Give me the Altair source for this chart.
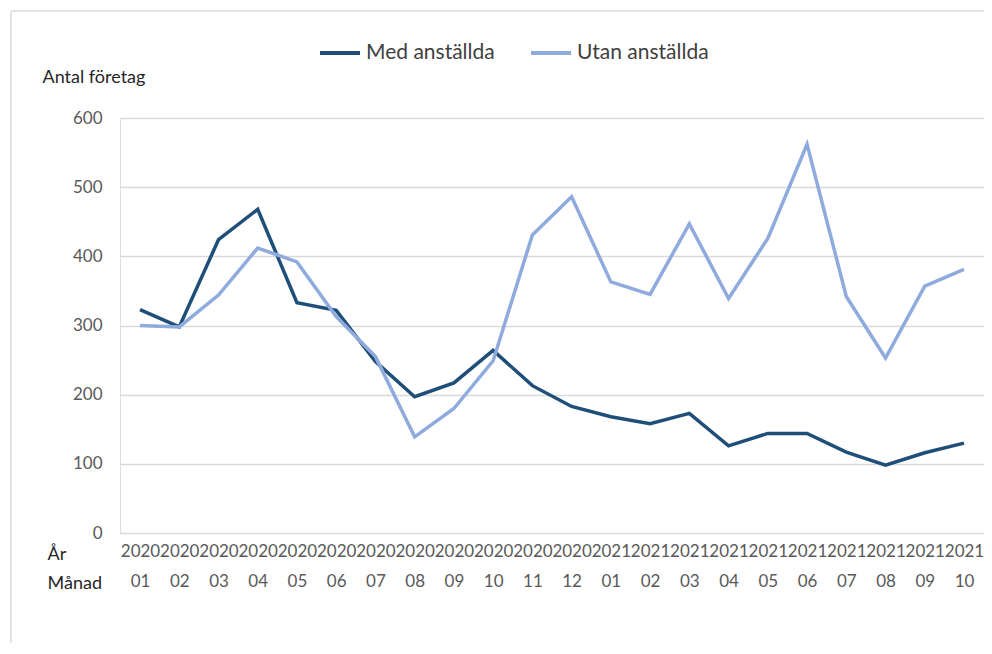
import altair as alt
import pandas as pd

months = ["2020-01","2020-02","2020-03","2020-04","2020-05","2020-06","2020-07","2020-08",
          "2020-09","2020-10","2020-11","2020-12","2021-01","2021-02","2021-03","2021-04",
          "2021-05","2021-06","2021-07","2021-08","2021-09","2021-10"]
med = [323, 298, 424, 468, 333, 322, 248, 197, 217, 264, 213, 183,
       168, 158, 173, 126, 144, 144, 117, 98, 116, 130]
utan = [300, 298, 344, 412, 392, 313, 255, 139, 180, 249, 431, 486,
        363, 345, 447, 339, 426, 562, 342, 253, 357, 381]
series_names = ["Med anställda", "Utan anställda"]
colors = ["#1f4e79", "#8faadc"]

rows = []
for m, a, b in zip(months, med, utan):
    rows.append({"Månad": m, "Serie": series_names[0], "Antal": a})
    rows.append({"Månad": m, "Serie": series_names[1], "Antal": b})
df = pd.DataFrame(rows)

FONT = "Lato"
W, H = 864, 415

lines = alt.Chart(df).mark_line(strokeWidth=3.5, strokeJoin="miter").encode(
    x=alt.X("Månad:O", sort=months,
            scale=alt.Scale(type="point", padding=0.51),
            axis=alt.Axis(
                title=["År", "Månad"], titleX=-73, titleY=12, titleAlign="left",
                titleBaseline="top", titleAnchor="start", titleFontWeight="normal",
                titleFontSize=18, titleColor="#262626", titleFont=FONT, titleLineHeight=29,
                labelExpr="[split(datum.label,'-')[0], split(datum.label,'-')[1]]",
                labelAngle=0, labelOverlap=False, labelFontSize=17, labelColor="#595959",
                labelFont=FONT, labelLineHeight=30, labelPadding=10, labelBound=False,
                labelFlush=False,
                ticks=False, domain=False, grid=False)),
    y=alt.Y("Antal:Q", scale=alt.Scale(domain=[0, 600], nice=False),
            axis=alt.Axis(
                title="Antal företag", titleAngle=0, titleX=-78, titleY=-41,
                titleAlign="left", titleBaseline="middle", titleFontWeight="normal",
                titleFontSize=18, titleColor="#262626", titleFont=FONT,
                values=[0, 100, 200, 300, 400, 500, 600],
                labelFontSize=17, labelColor="#595959", labelFont=FONT, labelPadding=18,
                ticks=False, domain=False, grid=True, gridColor="#d9d9d9", gridWidth=1.3)),
    color=alt.Color("Serie:N", sort=series_names,
                    scale=alt.Scale(domain=series_names, range=colors),
                    legend=alt.Legend(
                        title=None, orient="none", legendX=198, legendY=-87,
                        direction="horizontal", symbolType="stroke", symbolStrokeWidth=4,
                        symbolSize=1600, labelFontSize=21, labelFont=FONT,
                        labelColor="#404040", columnPadding=28, labelOffset=4)),
)

frame_data = alt.Data(values=[{"f": 1}])
frame_left = alt.Chart(frame_data).mark_rule(stroke="#d9d9d9", strokeWidth=1.5).encode(
    x=alt.value(-109), y=alt.value(-107), y2=alt.value(H + 150),
)
frame_top = alt.Chart(frame_data).mark_rule(stroke="#d9d9d9", strokeWidth=1.5).encode(
    x=alt.value(-109), x2=alt.value(W + 60), y=alt.value(-107),
)

chart = alt.layer(frame_left, frame_top, lines).properties(
    width=W, height=H,
    autosize=alt.AutoSizeParams(type="none"),
    padding={"left": 112, "top": 110, "right": 0, "bottom": 110},
).configure_view(stroke=None).configure(background="white")

chart.save("out.html", embed_options={"renderer": "svg", "actions": False})
